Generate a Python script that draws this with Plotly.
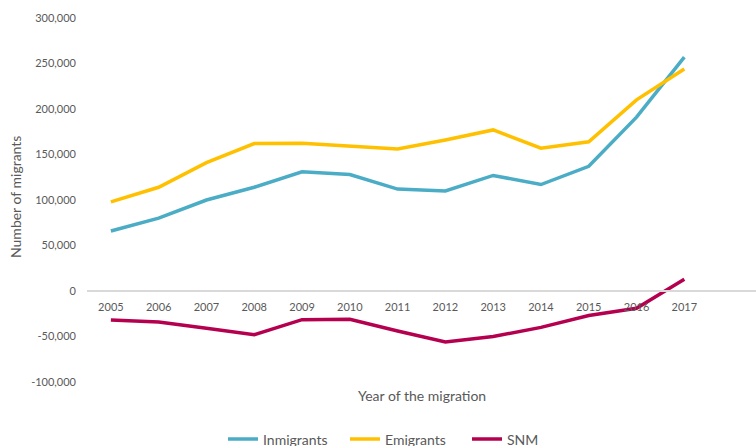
import plotly.graph_objects as go

years = [2005, 2006, 2007, 2008, 2009, 2010, 2011, 2012, 2013, 2014, 2015, 2016, 2017]
inmigrants = [66000, 80000, 100000, 114000, 131000, 128000, 112000, 110000, 127000, 117000, 137000, 191000, 257000]
emigrants = [98000, 114000, 141000, 162000, 162500, 159000, 156000, 166000, 177000, 157000, 164000, 210000, 244000]
snm = [-32000, -34000, -41000, -48000, -31500, -31000, -44000, -56000, -50000, -40000, -27000, -19000, 13000]

y_ticks = [-100000, -50000, 0, 50000, 100000, 150000, 200000, 250000, 300000]
y_ticktext = ["-100,000", "-50,000", "0", "50,000", "100,000", "150,000", "200,000", "250,000", "300,000"]

FONT = "Lato"
GREY = "#595959"

fig = go.Figure()
fig.add_trace(go.Scatter(x=years, y=inmigrants, mode="lines", name="Inmigrants",
                         line=dict(color="#4bacc6", width=3.5)))
fig.add_trace(go.Scatter(x=years, y=emigrants, mode="lines", name="Emigrants",
                         line=dict(color="#ffc000", width=3.5)))
fig.add_trace(go.Scatter(x=years, y=snm, mode="lines", name="SNM",
                         line=dict(color="#b4004e", width=3.5)))

fig.update_layout(
    width=756, height=446,
    margin=dict(l=87, r=0, t=18, b=64, autoexpand=False),
    paper_bgcolor="white", plot_bgcolor="white",
    font=dict(family=FONT, size=11, color=GREY),
    xaxis=dict(
        range=[2004.5, 2018.5],
        tickvals=years, ticktext=[str(y) for y in years],
        showgrid=False, zeroline=False,
        showline=True, linecolor="#d9d9d9", linewidth=1.5,
        anchor="free", position=0.25,
        ticks="", ticklabelstandoff=6,
        tickfont=dict(family=FONT, size=11, color=GREY),
        automargin=False,
    ),
    yaxis=dict(
        range=[-100000, 300000],
        tickvals=y_ticks, ticktext=y_ticktext,
        showgrid=False, zeroline=False, showline=False,
        ticks="", ticklabelstandoff=10,
        tickfont=dict(family=FONT, size=11, color=GREY),
        automargin=False,
    ),
    showlegend=True,
    legend=dict(orientation="h", x=(223 - 87) / 669, xanchor="left", y=-0.158, yanchor="middle",
                font=dict(family=FONT, size=14, color=GREY), bgcolor="rgba(0,0,0,0)",
                tracegroupgap=0, entrywidth=77, entrywidthmode="pixels"),
    annotations=[
        dict(text="Year of the migration", xref="paper", yref="paper",
             x=(422 - 87) / 669, y=(382 - 395) / 364, showarrow=False,
             xanchor="center", yanchor="middle",
             font=dict(family=FONT, size=14, color=GREY)),
        dict(text="Number of migrants", xref="paper", yref="paper",
             x=(15 - 87) / 669, y=(382 - 197) / 364, showarrow=False, textangle=-90,
             xanchor="center", yanchor="middle",
             font=dict(family=FONT, size=14, color=GREY)),
    ],
)

fig.write_html("out.html", config={"displayModeBar": False},
               post_script="document.body.style.margin='0px';")
